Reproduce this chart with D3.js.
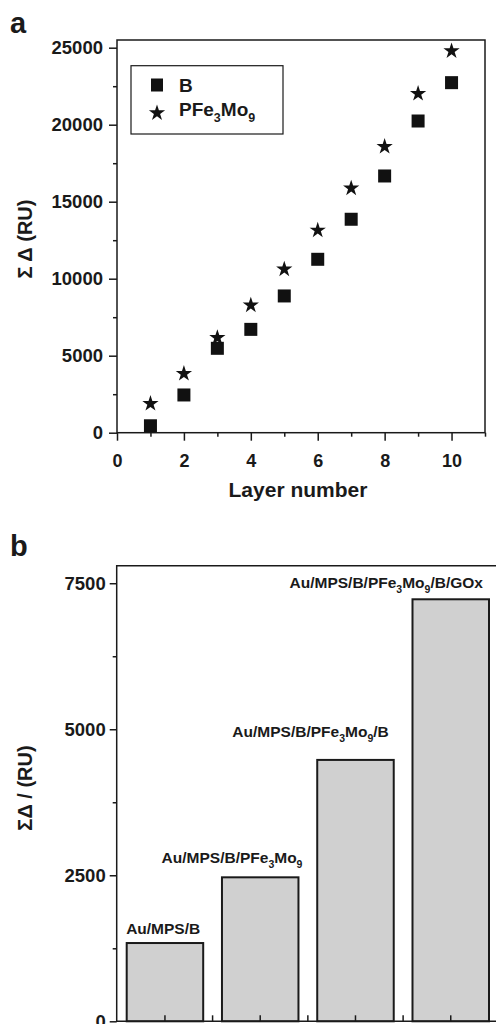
<!DOCTYPE html>
<html>
<head>
<meta charset="utf-8">
<script src="https://cdn.jsdelivr.net/npm/d3@7"></script>
<style>
  body { margin: 0; background: #fff; }
  svg { display: block; font-family: "Liberation Sans", Arial, Helvetica, sans-serif; font-weight: bold; }
  .axis text { fill: #1a1a1a; font-weight: bold; font-family: "Liberation Sans", Arial, sans-serif; }
  .axis line { stroke: #1a1a1a; stroke-width: 1.5; }
  .axis path.domain { display: none; }
</style>
</head>
<body>
<div id="chart"></div>
<script>
// Panel a: cumulative response vs layer number
const layers = [1, 2, 3, 4, 5, 6, 7, 8, 9, 10];
const seriesB = [450, 2450, 5480, 6710, 8880, 11260, 13860, 16670, 20240, 22730];
const seriesPFe = [1950, 3900, 6230, 8340, 10680, 13210, 15940, 18640, 22080, 24850];
const xTicksA = [0, 2, 4, 6, 8, 10];
const yTicksA = [0, 5000, 10000, 15000, 20000, 25000];

// Panel b: response after each deposition step
const barLabels = ["Au/MPS/B", "Au/MPS/B/PFe_3Mo_9", "Au/MPS/B/PFe_3Mo_9/B", "Au/MPS/B/PFe_3Mo_9/B/GOx"];
const barValues = [1340, 2465, 4475, 7225];
const yTicksB = [0, 2500, 5000, 7500];

const width = 496, height = 1024;
const ink = "#1a1a1a";

const svg = d3.select("#chart").append("svg")
    .attr("width", width)
    .attr("height", height)
    .attr("viewBox", [0, 0, width, height]);

// helper: write "PFe_3Mo_9" style text with subscripts
function richText(sel, str, subSize, shift) {
    const parts = str.split(/_(\d)/);
    parts.forEach((p, i) => {
        if (p === "") return;
        if (i % 2 === 1) {
            sel.append("tspan").style("font-size", subSize + "px").attr("dy", shift).text(p);
        } else {
            const t = sel.append("tspan").text(p);
            if (i > 0) t.attr("dy", -shift);
        }
    });
}

// tick label styling (inline style so the axis defaults don't win)
function tickFont(g, size) {
    g.attr("font-size", null).attr("font-family", null);
    g.selectAll("text").style("font-size", size + "px").style("font-weight", "bold");
}

// ---------------- panel a ----------------
const xA = d3.scaleLinear().domain([0, 11]).range([117, 485]);
const yA = d3.scaleLinear().domain([0, 25500]).range([432.7, 40]);

svg.append("text").attr("x", 10).attr("y", 33)
    .style("font-size", "29px").attr("fill", ink).text("a");

// frame
svg.append("rect")
    .attr("x", xA(0)).attr("y", yA(25500))
    .attr("width", xA(11) - xA(0)).attr("height", yA(0) - yA(25500))
    .attr("fill", "none").attr("stroke", ink).attr("stroke-width", 1.5);

// x axis
svg.append("g").attr("class", "axis")
    .attr("transform", `translate(0,${yA(0)})`)
    .call(d3.axisBottom(xA).tickValues(xTicksA).tickSize(8).tickPadding(14).tickFormat(d3.format("d")))
    .call(tickFont, 18);
svg.append("g").attr("class", "axis")
    .attr("transform", `translate(0,${yA(0)})`)
    .call(d3.axisBottom(xA).tickValues(xTicksA.map(d => d + 1)).tickSize(4).tickFormat(""));

// y axis
svg.append("g").attr("class", "axis")
    .attr("transform", `translate(${xA(0)},0)`)
    .call(d3.axisLeft(yA).tickValues(yTicksA).tickSize(8).tickPadding(6).tickFormat(d3.format("d")))
    .call(tickFont, 18.5);
svg.append("g").attr("class", "axis")
    .attr("transform", `translate(${xA(0)},0)`)
    .call(d3.axisLeft(yA).tickValues(yTicksA.slice(0, -1).map(d => d + 2500)).tickSize(4).tickFormat(""));

svg.append("text")
    .attr("x", (xA(0) + xA(11)) / 2 - 3).attr("y", 497)
    .attr("text-anchor", "middle").style("font-size", "21px").attr("fill", ink)
    .text("Layer number");

svg.append("text")
    .attr("transform", "translate(32,239) rotate(-90)")
    .attr("text-anchor", "middle").style("font-size", "20px").attr("fill", ink)
    .text("Σ Δ (RU)");

// markers
const sq = 13;
svg.append("g").selectAll("rect")
    .data(layers.map((l, i) => [l, seriesB[i]]))
    .join("rect")
    .attr("x", d => xA(d[0]) - sq / 2)
    .attr("y", d => yA(d[1]) - sq / 2)
    .attr("width", sq).attr("height", sq)
    .attr("fill", "#111");

const star = d3.symbol().type(d3.symbolStar).size(82);
svg.append("g").selectAll("path")
    .data(layers.map((l, i) => [l, seriesPFe[i]]))
    .join("path")
    .attr("transform", d => `translate(${xA(d[0])},${yA(d[1]) + 1})`)
    .attr("d", star)
    .attr("fill", "#111");

// legend
const legend = svg.append("g");
legend.append("rect")
    .attr("x", 131).attr("y", 65.7).attr("width", 152).attr("height", 68.3)
    .attr("fill", "#fff").attr("stroke", ink).attr("stroke-width", 1.2);
legend.append("rect").attr("x", 151).attr("y", 78.5).attr("width", 12).attr("height", 13).attr("fill", "#111");
legend.append("path").attr("transform", "translate(157,113)").attr("d", star).attr("fill", "#111");
legend.append("text").attr("x", 179).attr("y", 92).style("font-size", "19px").attr("fill", ink).text("B");
richText(legend.append("text").attr("x", 179).attr("y", 115.5).style("font-size", "19px").attr("fill", ink),
    "PFe_3Mo_9", 12.5, 6);

// ---------------- panel b ----------------
const xB = d3.scaleBand().domain(barLabels).range([116.7, 499]).paddingInner(0.197).paddingOuter(0.105);
const yB = d3.scaleLinear().domain([0, 7800]).range([1021.3, 565.7]);

svg.append("text").attr("x", 10).attr("y", 556)
    .style("font-size", "29px").attr("fill", ink).text("b");

// bars
svg.append("g").selectAll("rect")
    .data(barLabels.map((c, i) => [c, barValues[i]]))
    .join("rect")
    .attr("x", d => xB(d[0]))
    .attr("y", d => yB(d[1]))
    .attr("width", xB.bandwidth())
    .attr("height", d => yB(0) - yB(d[1]))
    .attr("fill", "#d0d0d0").attr("stroke", ink).attr("stroke-width", 2);

// frame (right side falls outside the picture)
svg.append("path")
    .attr("d", `M${xB.range()[1]},${yB(7800)}H${xB.range()[0]}V${yB(0)}H${xB.range()[1]}`)
    .attr("fill", "none").attr("stroke", ink).attr("stroke-width", 1.5);

// y axis
svg.append("g").attr("class", "axis")
    .attr("transform", `translate(${xB.range()[0]},0)`)
    .call(d3.axisLeft(yB).tickValues(yTicksB).tickSize(7).tickPadding(4).tickFormat(d3.format("d")))
    .call(tickFont, 18.5);
svg.append("g").attr("class", "axis")
    .attr("transform", `translate(${xB.range()[0]},0)`)
    .call(d3.axisLeft(yB).tickValues(yTicksB.slice(0, -1).map(d => d + 1250)).tickSize(4).tickFormat(""));

// bottom ticks (inside), at bar centres and between bars
const stepB = xB.step();
const tickXs = barLabels.map(c => xB(c) + xB.bandwidth() / 2)
    .concat(barLabels.slice(0, -1).map(c => xB(c) + xB.bandwidth() + (stepB - xB.bandwidth()) / 2));
svg.append("g").selectAll("line")
    .data(tickXs)
    .join("line")
    .attr("x1", d => d).attr("x2", d => d)
    .attr("y1", yB(0)).attr("y2", yB(0) - 6)
    .attr("stroke", ink).attr("stroke-width", 1.5);

// bar labels, nudged as in the original figure: [dx from bar right, gap above bar]
const labelNudge = [[-3, 9], [4, 14], [-5, 23], [-6, 11]];
svg.append("g").selectAll("text")
    .data(barLabels.map((c, i) => [c, barValues[i], labelNudge[i]]))
    .join("text")
    .attr("x", d => xB(d[0]) + xB.bandwidth() + d[2][0])
    .attr("y", d => yB(d[1]) - d[2][1])
    .attr("text-anchor", "end").style("font-size", "15.5px").attr("fill", ink)
    .each(function (d) { richText(d3.select(this), d[0], 10.5, 5); });

svg.append("text")
    .attr("transform", "translate(32,788) rotate(-90)")
    .attr("text-anchor", "middle").style("font-size", "20px").attr("fill", ink)
    .text("ΣΔ / (RU)");
</script>
</body>
</html>
